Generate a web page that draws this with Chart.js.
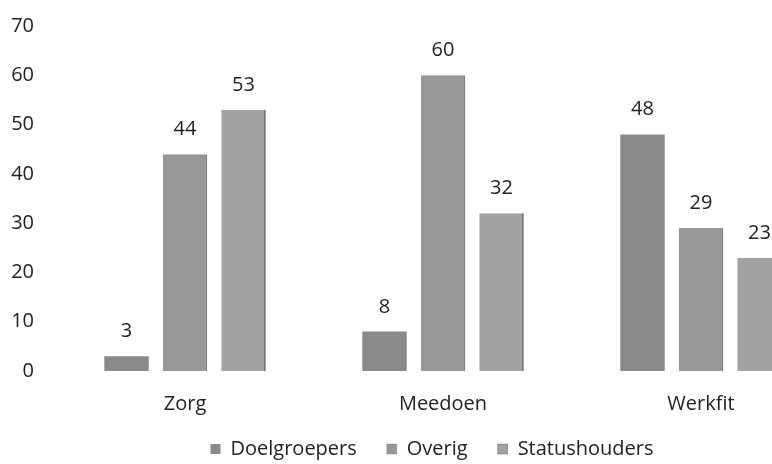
<!DOCTYPE html>
<html>
<head>
<meta charset="utf-8">
<script src="https://cdn.jsdelivr.net/npm/chart.js@4.4.1/dist/chart.umd.min.js"></script>
<style>
  html, body { margin: 0; padding: 0; background: #fff; overflow: hidden; }
  #wrap { position: absolute; left: -16px; top: 0; width: 846px; height: 489px; }
</style>
</head>
<body>
<div id="wrap"><canvas id="chartDoel"></canvas></div>
<script>
const categories = ['Zorg', 'Meedoen', 'Werkfit'];
const doelgroepers = [3, 8, 48];
const overig = [44, 60, 29];
const statushouders = [53, 32, 23];
const yTicks = [0, 10, 20, 30, 40, 50, 60, 70];

const font = { family: 'Open Sans', size: 20 };

// labels boven de staven
const valueLabels = {
  id: 'valueLabels',
  afterDatasetsDraw(chart) {
    const ctx = chart.ctx;
    ctx.save();
    ctx.font = '20px "Open Sans"';
    ctx.fillStyle = '#222';
    ctx.textAlign = 'center';
    ctx.textBaseline = 'alphabetic';
    chart.data.datasets.forEach((ds, i) => {
      chart.getDatasetMeta(i).data.forEach((bar, j) => {
        ctx.fillText(ds.data[j], bar.x, bar.y - 19);
      });
    });
    ctx.restore();
  }
};

// legenda iets dichter onder de as en iets naar rechts
const legendUp = {
  id: 'legendUp',
  afterLayout(chart) {
    const lg = chart.legend;
    const dy = chart.chartArea.bottom + 38 - lg.top;
    lg.top += dy;
    lg.bottom += dy;
    lg.left += 25;
    lg.right += 25;
  }
};

const ctx1 = document.getElementById('chartDoel').getContext('2d');
const chartDoel = new Chart(ctx1, {
  type: 'bar',
  data: {
    labels: categories,
    datasets: [
      { label: 'Doelgroepers', data: doelgroepers, backgroundColor: '#8a8a8a', borderColor: '#8a8a8a', borderWidth: 0 },
      { label: 'Overig', data: overig, backgroundColor: '#979797', borderColor: '#555', borderWidth: { right: 1 } },
      { label: 'Statushouders', data: statushouders, backgroundColor: '#a2a2a2', borderColor: '#444', borderWidth: { right: 1.5 } }
    ]
  },
  options: {
    responsive: true,
    maintainAspectRatio: false,
    animation: false,
    layout: { padding: { top: 5, right: 0, bottom: 0, left: 0 } },
    datasets: { bar: { barPercentage: 0.76, categoryPercentage: 0.68 } },
    scales: {
      x: {
        grid: { display: false },
        border: { display: false },
        ticks: { color: '#222', font: font, padding: 13 }
      },
      y: {
        min: 0,
        max: 70,
        afterBuildTicks: (scale) => { scale.ticks = yTicks.map(v => ({ value: v })); },
        afterFit: (scale) => { scale.width = 72; },
        grid: { display: false },
        border: { display: false },
        ticks: { color: '#222', font: font, padding: 14 }
      }
    },
    plugins: {
      legend: {
        position: 'bottom',
        labels: { color: '#222', font: font, boxWidth: 10, boxHeight: 10, padding: 30 }
      },
      tooltip: { enabled: false }
    }
  },
  plugins: [valueLabels, legendUp]
});
</script>
</body>
</html>
